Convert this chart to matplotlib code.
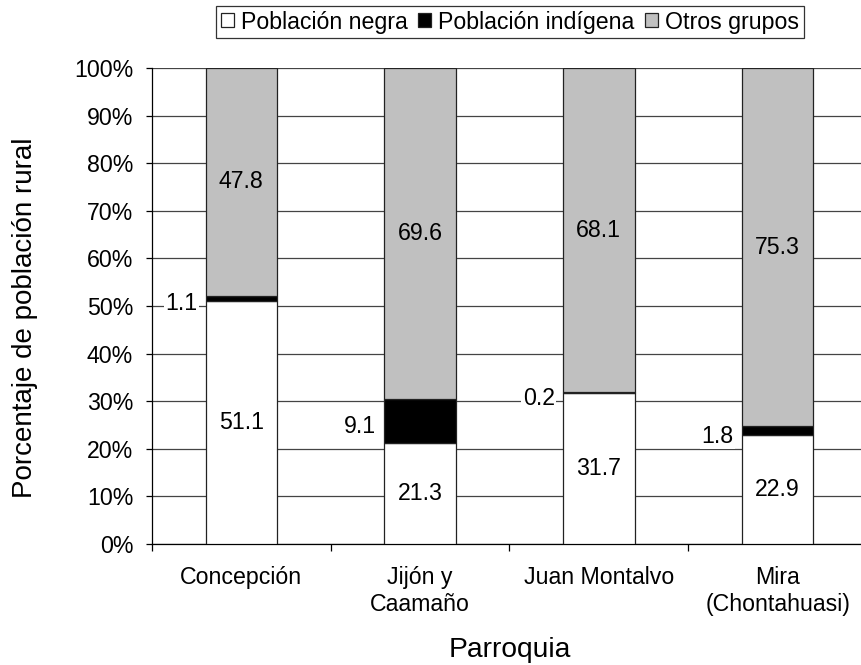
import matplotlib
matplotlib.use('Agg')
import matplotlib.pyplot as plt
import numpy as np

plt.rcParams['font.family'] = ['Liberation Sans', 'DejaVu Sans']

parroquias = ['Concepción', 'Jijón y\nCaamaño', 'Juan Montalvo', 'Mira\n(Chontahuasi)']
negra = [51.1, 21.3, 31.7, 22.9]
indigena = [1.1, 9.1, 0.2, 1.8]
otros = [47.8, 69.6, 68.1, 75.3]
series = ['Población negra', 'Población indígena', 'Otros grupos']
colores = ['#ffffff', '#000000', '#c0c0c0']
yticks = np.arange(0, 101, 10)

fig = plt.figure(figsize=(8.62, 6.65), dpi=100)
ax = fig.add_axes([152/862, 121/665, 715/862, 476/665])

fs = 16.7
x = np.arange(len(parroquias))
w = 0.4
bottom = np.zeros(len(x))
bars = []
for vals, col, name in zip([negra, indigena, otros], colores, series):
    b = ax.bar(x, vals, w, bottom=bottom, color=col, edgecolor='#222222',
               linewidth=0.9, label=name, zorder=3)
    bars.append(b)
    bottom = bottom + np.array(vals)

# etiquetas
bottom = np.zeros(len(x))
for k, vals in enumerate([negra, indigena, otros]):
    for i, v in enumerate(vals):
        yc = bottom[i] + v / 2
        if k == 1:
            ax.annotate(f'{v:.1f}', (x[i] - w/2, yc), xytext=(-6, -4),
                        textcoords='offset points', ha='right', va='center',
                        fontsize=fs, zorder=4,
                        bbox=dict(facecolor='white', edgecolor='none', pad=1))
        else:
            ax.text(x[i], yc, f'{v:.1f}', ha='center', va='center',
                    fontsize=fs, zorder=4)
    bottom = bottom + np.array(vals)

ax.set_xlim(-0.5, len(x) - 0.5)
ax.set_ylim(0, 100)
ax.set_yticks(yticks)
ax.set_yticklabels([f'{t}%' for t in yticks])
ax.yaxis.grid(True, color='#444444', linewidth=0.9, zorder=0)
ax.set_axisbelow(True)

ax.set_xticks(np.arange(-0.5, len(x), 1.0))
ax.set_xticklabels([])
ax.set_xticks(x, minor=True)
ax.set_xticklabels(parroquias, minor=True)
ax.tick_params(axis='x', which='minor', length=0, pad=16, labelsize=fs)
ax.tick_params(axis='x', which='major', length=5, direction='out', width=0.9)
ax.tick_params(axis='y', length=4.5, direction='out', pad=9, labelsize=fs, width=0.9)

for s in ['top', 'right']:
    ax.spines[s].set_visible(False)
ax.spines['left'].set_linewidth(0.9)
ax.spines['bottom'].set_linewidth(0.9)

fig.text(25/862, 1 - 318/665, 'Porcentaje de población rural', rotation=90,
         ha='center', va='center', fontsize=20)
fig.text(510/862, 1 - 650/665, 'Parroquia', ha='center', va='center', fontsize=20.3)

leg = fig.legend(handles=bars, labels=series, loc='center', ncol=3,
                 bbox_to_anchor=(510/862, 1 - 22/665), fontsize=fs,
                 frameon=True, fancybox=False, edgecolor='black',
                 handlelength=0.56, handleheight=0.56, handletextpad=0.3,
                 columnspacing=0.47, borderpad=0.2, borderaxespad=0)
leg.get_frame().set_linewidth(0.9)

plt.savefig('out.png', dpi=100)
